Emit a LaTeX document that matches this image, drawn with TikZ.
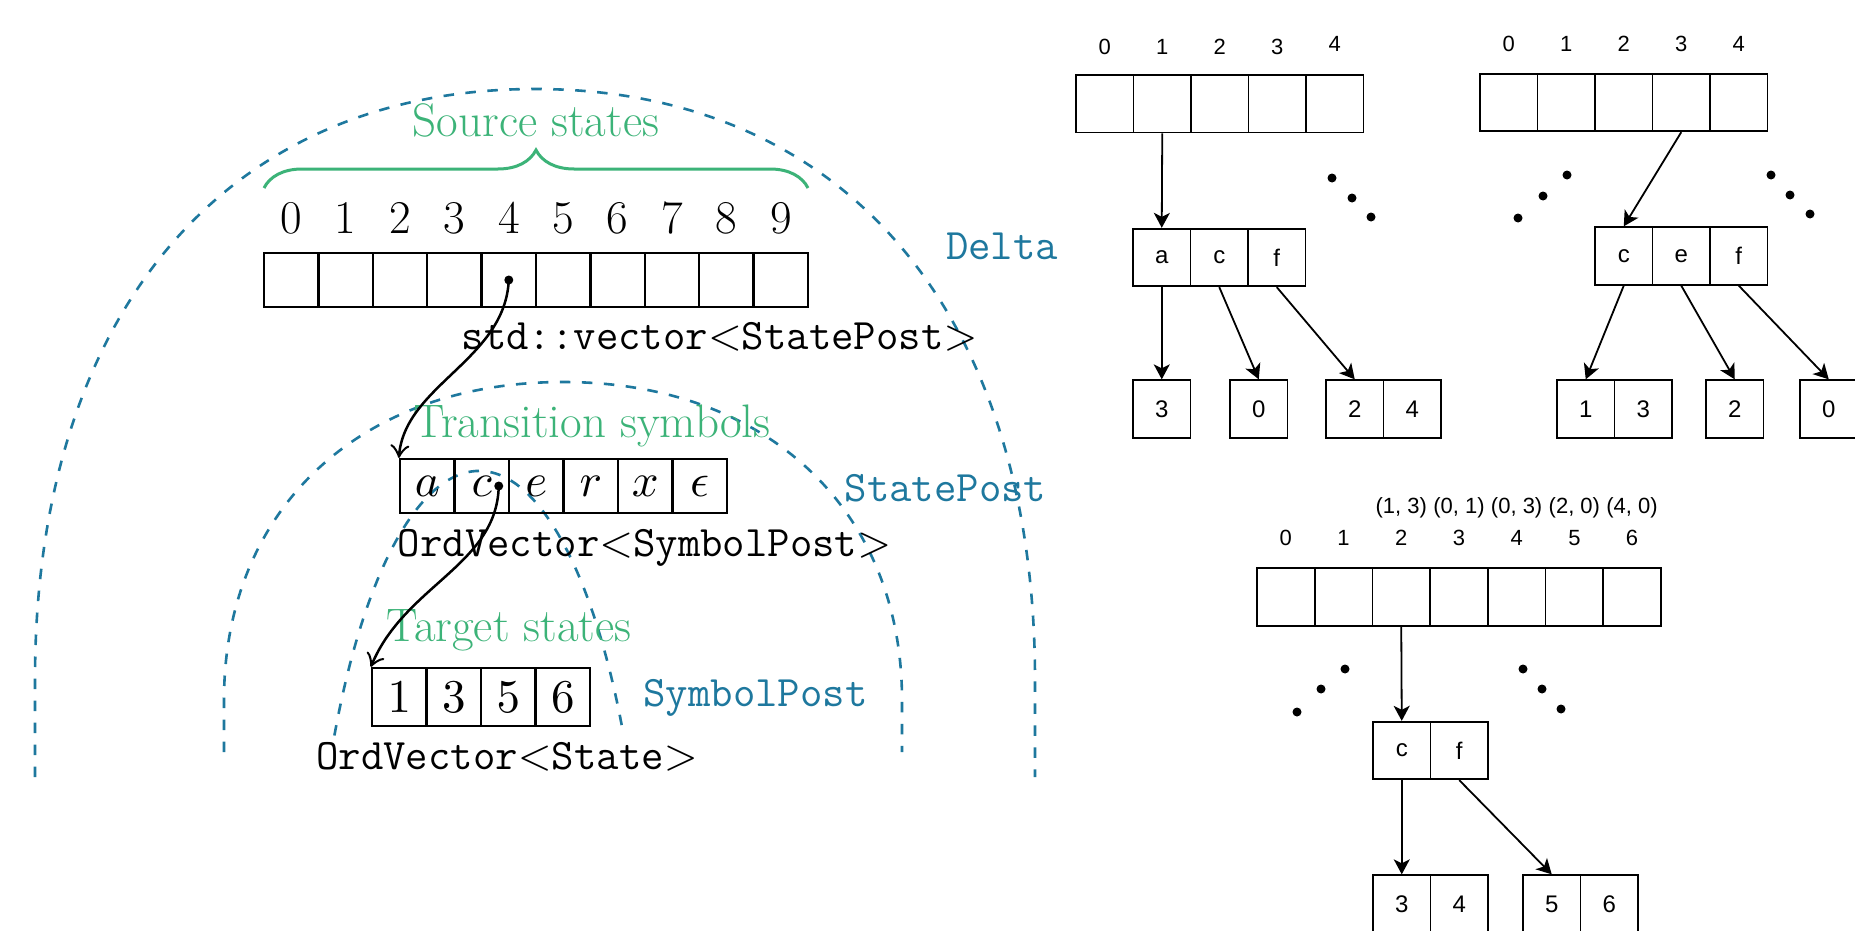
\documentclass[tikz,border=0pt]{standalone}
\usepackage{graphicx}
\usepackage{fontspec}
\usetikzlibrary{arrows.meta,decorations.pathreplacing}

\newfontfamily\drawsans{Liberation Sans}
\definecolor{labelgreen}{RGB}{60,179,120}
\definecolor{layerteal}{RGB}{30,120,158}

% text sizes for the two halves of the figure
\newcommand{\romansize}{\fontsize{47}{56}\selectfont}
\newcommand{\monosize}{\fontsize{43.5}{52}\selectfont\ttfamily}
\newcommand{\labelsans}{\drawsans\fontsize{22}{26}\selectfont}
\newcommand{\cellsans}{\drawsans\fontsize{24}{28}\selectfont}
% math symbols set at 10pt and enlarged
\newcommand{\cellmath}[1]{\scalebox{4.7}{\normalsize$#1$}}
\newcommand{\ttrel}[1]{\scalebox{4.35}{\normalsize$#1$}}

\begin{document}
\begin{tikzpicture}[x=1pt,y=-1pt,
  lcell/.style={draw=black, line width=2.3pt, minimum width=54.4pt, minimum height=54pt, inner sep=0pt},
  scell/.style={lcell, minimum width=54.5pt},
  tcell/.style={lcell, minimum width=54.5pt, minimum height=58pt},
  rcell/.style={draw=black, line width=1.8pt, minimum width=57.5pt, minimum height=57.5pt, inner sep=0pt, font=\cellsans},
  lbl/.style={anchor=base, inner sep=0pt},
  rmtext/.style={lbl, font=\romansize},
  tttext/.style={lbl, font=\monosize},
  greenlbl/.style={rmtext, text=labelgreen},
  teallbl/.style={tttext, text=layerteal},
  idxsans/.style={lbl, font=\labelsans},
  layer/.style={draw=layerteal, line width=2.6pt, dash pattern=on 10.5pt off 11.5pt},
  ptr/.style={draw=black, line width=2.5pt, -{Classical TikZ Rightarrow[length=13pt,width=19pt]}},
  rarrow/.style={draw=black, line width=1.8pt, -{Stealth[length=15pt,width=16pt,inset=4pt]}},
  pdot/.style={circle, fill=black, inner sep=0pt, minimum size=9pt},
  edot/.style={circle, fill=black, inner sep=0pt, minimum size=9pt},
]
\useasboundingbox (0,0) rectangle (1855,931);
\fill[white] (0,0) rectangle (1855,931);

% ---------- nested layers of the transition relation ----------
\draw[layer] (35,777) -- (35,680) .. controls (35,314) and (225,89) .. (535,89)
  .. controls (845,89) and (1035,314) .. (1035,680) -- (1035,777);
\draw[layer] (224,752) -- (224,700) .. controls (224,509) and (360,382) .. (563,382)
  .. controls (766,382) and (902,509) .. (902,700) -- (902,752);
\draw[layer] (334.4,735.5) arc[start angle=-150, end angle=-30, x radius=167, y radius=529];

% ---------- source states ----------
\foreach \i in {0,...,9} {
  \node[lcell] (src\i) at ({291.2+54.4*\i},280) {};
  \node[rmtext] (srcnum\i) at ({291.2+54.4*\i},233) {\i};
}
\coordinate (braceL) at (264,188);
\coordinate (braceR) at (808,188);
\draw[decorate, decoration={brace, amplitude=38pt}, draw=labelgreen, line width=3pt] (braceL) -- (braceR);
\node[greenlbl] (srcTitle) at (536,136) {Source states};
\node[tttext] (srcType) at (719.5,349) {std::vector\ttrel{<}StatePost\ttrel{>}};
\node[teallbl] (deltaLbl) at (1002,259) {Delta};

% ---------- transition symbols ----------
\foreach \s [count=\k from 0] in {a,c,e,r,x,\epsilon} {
  \node[scell] (sym\k) at ({427.25+54.5*\k},486) {\cellmath{\s}};
}
\node[greenlbl] (symTitle) at (592,437) {Transition symbols};
\node[tttext] (symType) at (644.5,556) {OrdVector\ttrel{<}SymbolPost\ttrel{>}};
\node[teallbl] (statePostLbl) at (945.5,501) {StatePost};

% ---------- target states ----------
\foreach \s [count=\k from 0] in {1,3,5,6} {
  \node[tcell] (tgt\k) at ({399.25+54.5*\k},697) {\cellmath{\s}};
}
\node[greenlbl] (tgtTitle) at (509,641) {Target states};
\node[tttext] (tgtType) at (507,769) {OrdVector\ttrel{<}State\ttrel{>}};
\node[teallbl] (symbolPostLbl) at (755.5,706) {SymbolPost};

% ---------- pointers ----------
\node[pdot] (srcdot) at (src4.center) {};
\node[pdot] (symdot) at ([xshift=17pt]sym1.center) {};
\draw[ptr] (srcdot.center) .. controls (505,360) and (405,385) .. (sym0.north west);
\draw[ptr] (symdot.center) .. controls (497,565) and (405,585) .. (tgt0.north west);

% ---------- example: first delta ----------
\foreach \i/\yb in {0/54.5,1/54.5,2/54.5,3/55,4/51.5} {
  \node[rcell] (A\i) at ({1104.75+57.5*\i},103.75) {};
  \node[idxsans] (Anum\i) at ({1104.75+57.5*\i},\yb) {\i};
}
\foreach \s [count=\k from 0] in {a,c,f} {
  \node[rcell] (acf\k) at ({1161.75+57.5*\k},257.5) {\s};
}
\node[rcell] (lfa) at (1161.75,409) {3};
\node[rcell] (lfc) at (1258.75,409) {0};
\node[rcell] (lff) at (1354.75,409) {2};
\node[rcell] (lffb) at (1412.25,409) {4};
\draw[rarrow] (A1.south) -- (acf0.north);
\draw[rarrow] (acf0.south) -- (lfa.north);
\draw[rarrow] (acf1.south) -- (lfc.north);
\draw[rarrow] (acf2.south) -- (lff.north);
\node[edot] (dA1) at (1332,178) {};
\node[edot] (dA2) at (1352,198) {};
\node[edot] (dA3) at (1371,217) {};

% ---------- example: second delta ----------
\foreach \i in {0,...,4} {
  \node[rcell] (B\i) at ({1508.75+57.5*\i},102.5) {};
  \node[idxsans] (Bnum\i) at ({1508.75+57.5*\i},52) {\i};
}
\foreach \s [count=\k from 0] in {c,e,f} {
  \node[rcell] (cef\k) at ({1623.75+57.5*\k},256) {\s};
}
\node[rcell] (rlc) at (1585.75,409) {1};
\node[rcell] (rlcb) at (1643.25,409) {3};
\node[rcell] (rle) at (1734.75,409) {2};
\node[rcell] (rlf) at (1828.75,409) {0};
\draw[rarrow] (B3.south) -- (cef0.north);
\draw[rarrow] (cef0.south) -- (rlc.north);
\draw[rarrow] (cef1.south) -- (rle.north);
\draw[rarrow] (cef2.south) -- (rlf.north);
\node[edot] (dB1) at (1518,218) {};
\node[edot] (dB2) at (1543,196) {};
\node[edot] (dB3) at (1567,175) {};
\node[edot] (dB4) at (1771,175) {};
\node[edot] (dB5) at (1790,195) {};
\node[edot] (dB6) at (1810,214) {};

% ---------- example: third delta ----------
\foreach \i in {0,...,6} {
  \node[rcell, minimum width=57.7pt] (C\i) at ({1285.85+57.7*\i},597) {};
  \node[idxsans] (Cnum\i) at ({1285.85+57.7*\i},545) {\i};
}
\foreach \i/\t in {2/{(1, 3)},3/{(0, 1)},4/{(0, 3)},5/{(2, 0)},6/{(4, 0)}} {
  \node[idxsans] (Cpair\i) at ({1285.85+57.7*\i},513) {\t};
}
\node[rcell] (cf0) at (1401.75,750.5) {c};
\node[rcell] (cf1) at (1459.25,750.5) {f};
\node[rcell] (blc) at (1401.75,904) {3};
\node[rcell] (blcb) at (1459.25,904) {4};
\node[rcell] (blf) at (1551.75,904) {5};
\node[rcell] (blfb) at (1609.25,904) {6};
\draw[rarrow] (C2.south) -- (cf0.north);
\draw[rarrow] (cf0.south) -- (blc.north);
\draw[rarrow] (cf1.south) -- (blf.north);
\node[edot] (dC1) at (1297,712) {};
\node[edot] (dC2) at (1321,689) {};
\node[edot] (dC3) at (1345,669) {};
\node[edot] (dC4) at (1523,669) {};
\node[edot] (dC5) at (1542,689) {};
\node[edot] (dC6) at (1561,709) {};
\end{tikzpicture}
\end{document}
